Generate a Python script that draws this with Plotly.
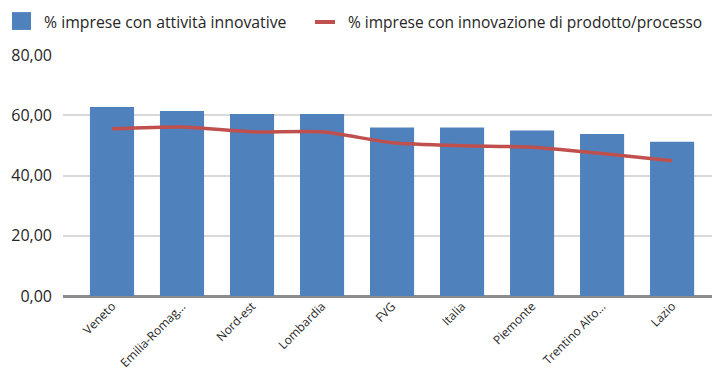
import plotly.graph_objects as go

# Regions / aggregates on the category axis
regions = ["Veneto", "Emilia-Romag...", "Nord-est", "Lombardia", "FVG",
           "Italia", "Piemonte", "Trentino Alto...", "Lazio"]

# % of firms with innovative activities (bars)
innovative_activity = [62.7, 61.4, 60.4, 60.4, 55.9, 55.9, 54.9, 53.8, 51.2]

# % of firms with product/process innovation (line)
product_process = [55.5, 56.1, 54.5, 54.5, 50.9, 49.9, 49.4, 47.3, 44.9]

y_ticks = [0, 20, 40, 60, 80]

series_names = ["% imprese con attività innovative",
                "% imprese con innovazione di prodotto/processo"]

BLUE = "#4F81BD"
RED = "#C0504D"
FONT = "Open Sans"
TEXT = "#262626"

fig = go.Figure()
fig.add_trace(go.Bar(
    x=regions, y=innovative_activity, name=series_names[0],
    marker=dict(color=BLUE, line=dict(width=0)),
    width=0.63, showlegend=False,
))
fig.add_trace(go.Scatter(
    x=regions, y=product_process, name=series_names[1],
    mode="lines", line=dict(color=RED, width=3.5, shape="spline", smoothing=0.6),
    showlegend=False,
))

# Legend drawn as swatches + text at the top
fig.add_shape(type="rect", xref="paper", yref="paper",
              x0=-0.0786, x1=-0.0493, y0=1.104, y1=1.178,
              fillcolor=BLUE, line=dict(width=0), layer="above")
fig.add_shape(type="line", xref="paper", yref="paper",
              x0=0.3883, x1=0.4191, y0=1.137, y1=1.137,
              line=dict(color=RED, width=4), layer="above")
fig.add_annotation(text=series_names[0], xref="paper", yref="paper",
                   x=-0.0308, y=1.137, xanchor="left", yanchor="middle",
                   xshift=-1, showarrow=False,
                   font=dict(family=FONT, size=15.8, color=TEXT))
fig.add_annotation(text=series_names[1], xref="paper", yref="paper",
                   x=0.4391, y=1.137, xanchor="left", yanchor="middle",
                   xshift=-2, showarrow=False,
                   font=dict(family=FONT, size=15.5, color=TEXT))

fig.update_layout(
    width=712, height=376,
    margin=dict(l=63, r=0, t=55, b=80),
    paper_bgcolor="white", plot_bgcolor="white",
    separators=",.",
    font=dict(family=FONT, color=TEXT),
    xaxis=dict(
        type="category", range=[-0.7, 8.57],
        tickangle=-45, tickfont=dict(size=12, color=TEXT),
        showgrid=False, ticks="", showline=False, zeroline=False,
    ),
    yaxis=dict(
        range=[0, 80], tickvals=y_ticks, tickformat=".2f",
        tickfont=dict(size=16, color=TEXT),
        showgrid=True, gridcolor="#d9d9d9", gridwidth=1.5,
        zeroline=True, zerolinecolor="#8c8c8c", zerolinewidth=2.5,
        ticks="", showline=False, ticklabelstandoff=10,
    ),
)

fig.write_html("out.html")
